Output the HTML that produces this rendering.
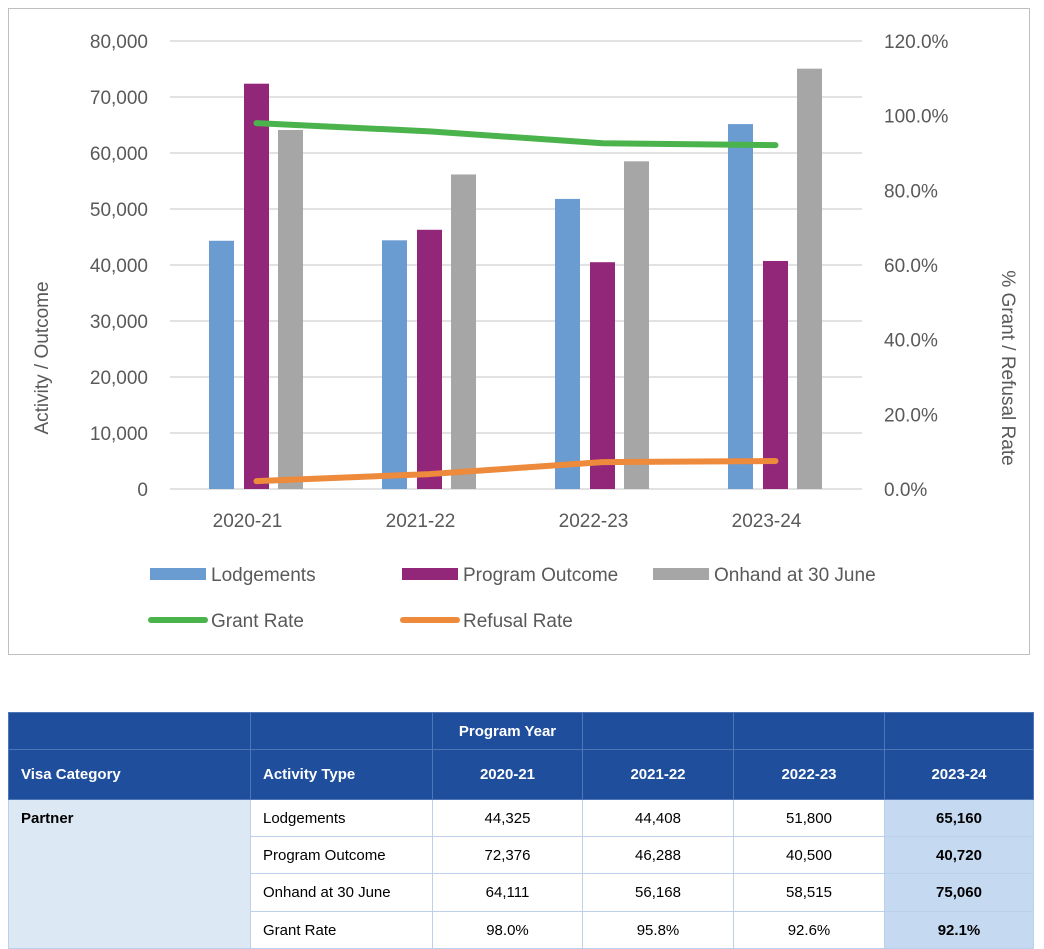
<!DOCTYPE html>
<html><head><meta charset="utf-8"><style>
body{margin:0;width:1044px;height:938px;overflow:hidden;background:#fff;font-family:"Liberation Sans",Arial,sans-serif;position:relative}
#frame{position:absolute;left:8px;top:8px;width:1022px;height:647px;border:1px solid #bfbfbf;box-sizing:border-box}
svg{position:absolute;left:0;top:0}
table{position:absolute;left:8px;top:712px;border-collapse:collapse;font-size:15px;table-layout:fixed}
td{border:1px solid #bcd0ea;padding:0 0 0 12px;height:36px;box-sizing:border-box}
.h td{background:#1f4e9c;color:#fff;font-weight:bold;border-color:#4f77b8}
.c{text-align:center;padding:0}
.vc{background:#dde8f5;vertical-align:top;font-weight:bold;padding-top:10px}
.hl{background:#c5d9f1;font-weight:bold;text-align:center;padding:0}
</style></head><body>
<div id="frame"></div>
<svg id="chart" width="1044" height="700"></svg>
<table>
<colgroup><col style="width:242px"><col style="width:182px"><col style="width:150px"><col style="width:151px"><col style="width:151px"><col style="width:149px"></colgroup>
<tr class="h"><td style="height:37px"></td><td></td><td class="c">Program Year</td><td></td><td></td><td></td></tr>
<tr class="h"><td style="height:50px">Visa Category</td><td>Activity Type</td><td class="c">2020-21</td><td class="c">2021-22</td><td class="c">2022-23</td><td class="c">2023-24</td></tr>
<tr><td class="vc" rowspan="4">Partner</td><td style="height:37px">Lodgements</td><td class="c">44,325</td><td class="c">44,408</td><td class="c">51,800</td><td class="hl">65,160</td></tr>
<tr><td style="height:37px">Program Outcome</td><td class="c">72,376</td><td class="c">46,288</td><td class="c">40,500</td><td class="hl">40,720</td></tr>
<tr><td style="height:38px">Onhand at 30 June</td><td class="c">64,111</td><td class="c">56,168</td><td class="c">58,515</td><td class="hl">75,060</td></tr>
<tr><td style="height:37px">Grant Rate</td><td class="c">98.0%</td><td class="c">95.8%</td><td class="c">92.6%</td><td class="hl">92.1%</td></tr>
</table>
<script>
const categories=["2020-21","2021-22","2022-23","2023-24"];
const lodgements=[44325,44408,51800,65160];
const programOutcome=[72376,46288,40500,40720];
const onhand=[64111,56168,58515,75060];
const grantRate=[98.0,95.8,92.6,92.1];
const refusalRate=[2.1,4.0,7.2,7.5];
const leftTicks=[0,10000,20000,30000,40000,50000,60000,70000,80000];
const rightTicks=[0,20,40,60,80,100,120];
const svg=document.getElementById('chart');
const NS='http://www.w3.org/2000/svg';
const X0=170,X1=862,Y0=489,Y1=41;
const yL=v=>Y0-(v/80000)*(Y0-Y1);
const yR=v=>Y0-(v/120)*(Y0-Y1);
const band=(X1-X0)/categories.length;
const xC=i=>X0+band*(i+0.5);
function mk(t,a,txt){const e=document.createElementNS(NS,t);for(const k in a)e.setAttribute(k,a[k]);if(txt!==undefined)e.textContent=txt;svg.appendChild(e);return e;}
leftTicks.forEach(v=>{
 const g=mk('line',{x1:X0,x2:X1,y1:yL(v),y2:yL(v),stroke:'#d9d9d9','stroke-width':1.5});
 
 const t=mk('text',{x:148,y:yL(v)+7,'text-anchor':'end','font-size':19,fill:'#595959'},v.toLocaleString('en-US'));
 
});
rightTicks.forEach(v=>{
 const t=mk('text',{x:884,y:yR(v)+7,'font-size':19,fill:'#595959'},v.toFixed(1)+'%');
 
});
const series=[[lodgements,'#6a9bd1',-35],[programOutcome,'#92277a',0],[onhand,'#a6a6a6',34]];
series.forEach(([arr,col,off])=>{arr.forEach((v,i)=>{
 const r=mk('rect',{x:xC(i)+off-12.5,y:yL(v),width:25,height:Y0-yL(v),fill:col});
 
});});
categories.forEach((c,i)=>{const t=mk('text',{x:xC(i)-9,y:527,'text-anchor':'middle','font-size':19,fill:'#595959'},c);
 });
function line(arr,col,name){const p=mk('polyline',{points:arr.map((v,i)=>xC(i)+','+yR(v)).join(' '),fill:'none',stroke:col,'stroke-width':6,'stroke-linecap':'round','stroke-linejoin':'round'});
 }
line(grantRate,'#4bb34b','grant-rate-line');
line(refusalRate,'#ed8a3c','refusal-rate-line');
let t=mk('text',{transform:'translate(48,358) rotate(-90)','text-anchor':'middle','font-size':19,fill:'#595959'},'Activity / Outcome');

t=mk('text',{transform:'translate(1002,368) rotate(90)','text-anchor':'middle','font-size':19,fill:'#595959'},'% Grant / Refusal Rate');

const legend=[['rect','#6a9bd1','Lodgements',150,574],['rect','#92277a','Program Outcome',402,574],['rect','#a6a6a6','Onhand at 30 June',653,574],['line','#4bb34b','Grant Rate',150,620],['line','#ed8a3c','Refusal Rate',402,620]];
legend.forEach(([k,c,l,x,y])=>{
 if(k==='rect')mk('rect',{x:x,y:y-6,width:56,height:12,fill:c});
 else mk('line',{x1:x+1,x2:x+55,y1:y,y2:y,stroke:c,'stroke-width':6,'stroke-linecap':'round'});
 const e=mk('text',{x:x+61,y:y+7,'font-size':19,fill:'#595959'},l);
 
});
</script>
</body></html>
